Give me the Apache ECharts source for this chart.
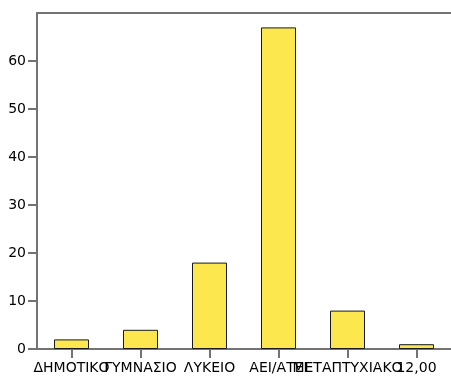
<!DOCTYPE html>
<html>
<head>
<meta charset="utf-8">
<script src="https://cdn.jsdelivr.net/npm/echarts@6/dist/echarts.min.js"></script>
<style>
html,body{margin:0;padding:0;background:#fff;}
#chart{width:451px;height:376px;}
</style>
</head>
<body>
<div id="chart"></div>
<script>
// Education level counts
const categories = ['ΔΗΜΟΤΙΚΟ', 'ΓΥΜΝΑΣΙΟ', 'ΛΥΚΕΙΟ', 'ΑΕΙ/ΑΤΕΙ', 'ΜΕΤΑΠΤΥΧΙΑΚΟ', '12,00'];
const counts = [2, 4, 18, 67, 8, 1];
const yTicks = [0, 10, 20, 30, 40, 50, 60];

const axisGray = '#737373';
const font = 'DejaVu Sans';

const chart = echarts.init(document.getElementById('chart'), null, {renderer: 'canvas'});
chart.setOption({
  animation: false,
  grid: {left: 37, top: 13, right: -2, bottom: 27, containLabel: false},
  xAxis: [{
    type: 'category',
    data: categories,
    position: 'bottom',
    axisLine: {lineStyle: {color: axisGray, width: 2}},
    axisTick: {show: true, inside: false, alignWithLabel: true, length: 9, lineStyle: {color: axisGray, width: 2}},
    axisLabel: {interval: 0, color: '#000', fontFamily: font, fontSize: 14, margin: 12}
  }, {
    type: 'category',
    data: categories,
    position: 'top',
    axisLine: {lineStyle: {color: axisGray, width: 2}},
    axisTick: {show: false},
    axisLabel: {show: false}
  }],
  yAxis: {
    type: 'value',
    min: 0,
    max: 70,
    interval: 10,
    axisLine: {show: true, lineStyle: {color: axisGray, width: 2}},
    axisTick: {show: true, inside: false, length: 9, lineStyle: {color: axisGray, width: 2}},
    axisLabel: {
      showMaxLabel: false,
      color: '#000', fontFamily: font, fontSize: 14, margin: 11,
      formatter: v => yTicks.includes(v) ? String(v) : ''
    },
    splitLine: {show: false}
  },
  series: [{
    type: 'bar',
    data: counts,
    barWidth: 35,
    itemStyle: {color: '#fde74f', borderColor: '#1a1a1a', borderWidth: 1}
  }]
});
</script>
</body>
</html>
